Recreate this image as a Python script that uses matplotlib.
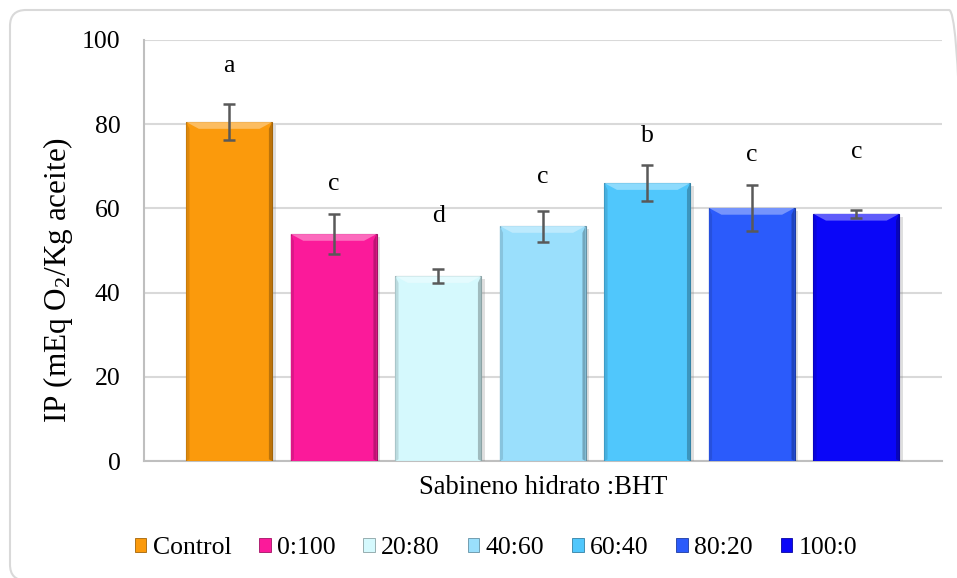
import matplotlib
matplotlib.use("Agg")
import matplotlib.pyplot as plt
import matplotlib.patheffects as pe
from matplotlib.patches import FancyBboxPatch, Patch, Polygon
from matplotlib.colors import to_rgb
import numpy as np

# Induction period by treatment
treatments = ["Control", "0:100", "20:80", "40:60", "60:40", "80:20", "100:0"]
ip_values = [80.5, 53.9, 43.9, 55.8, 66.0, 60.1, 58.7]
ip_errors = [4.3, 4.7, 1.6, 3.7, 4.2, 5.4, 1.0]
letters = ["a", "c", "d", "c", "b", "c", "c"]
letter_heights = [93.8, 65.8, 58.2, 67.4, 77.2, 72.6, 73.3]
colors = ["#FB9A0C", "#FB1A9A", "#D5F9FD", "#9ADFFC", "#50C7FC", "#2B5BFB", "#0A06F8"]
category = "Sabineno hidrato :BHT"
yticks = [0, 20, 40, 60, 80, 100]

plt.rcParams["font.family"] = ["Liberation Serif", "DejaVu Serif"]
plt.rcParams["mathtext.fontset"] = "custom"
plt.rcParams["mathtext.rm"] = "Liberation Serif"
plt.rcParams["mathtext.it"] = "Liberation Serif:italic"
plt.rcParams["mathtext.bf"] = "Liberation Serif:bold"
FS = 18.5

W, H = 957, 578
fig = plt.figure(figsize=(W / 100, H / 100), dpi=100)

# rounded chart-area frame (inches); right and bottom edges run off the canvas
frame = FancyBboxPatch((0.10, -0.025), 9.55, 5.705,
                       boxstyle="round,pad=0,rounding_size=0.16",
                       transform=fig.dpi_scale_trans, facecolor="none",
                       edgecolor="#d9d9d9", linewidth=1.5, zorder=0)
fig.patches.append(frame)

ax = fig.add_axes([144 / W, (H - 461) / H, 798 / W, 421 / H])
ax.set_facecolor("none")

x = np.arange(len(treatments))
bar_w = 0.82


def mix(c, other, t):
    c = np.array(to_rgb(c))
    o = np.array(to_rgb(other))
    return tuple(c * (1 - t) + o * t)


bars = ax.bar(x, ip_values, width=bar_w, color=colors, zorder=3,
              edgecolor=[mix(c, "black", 0.35) for c in colors], linewidth=0.8)
for b in bars:
    b.set_path_effects([pe.SimplePatchShadow(offset=(2.5, -2), alpha=0.25, shadow_rgbFace="gray"),
                        pe.Normal()])

# bevel highlights along the top and soft darkening on the sides
bev_h = 1.6
bev_d = 0.12
for xi, v, c in zip(x, ip_values, colors):
    x0, x1 = xi - bar_w / 2, xi + bar_w / 2
    top = Polygon([(x0, v), (x1, v), (x1 - bev_d, v - bev_h), (x0 + bev_d, v - bev_h)],
                  closed=True, facecolor=mix(c, "white", 0.35), edgecolor="none", zorder=4)
    ax.add_patch(top)
    right = Polygon([(x1, v), (x1, 0), (x1 - 0.03, 0.4), (x1 - 0.03, v - bev_h)],
                    closed=True, facecolor=mix(c, "black", 0.25), edgecolor="none", zorder=4)
    ax.add_patch(right)
    left = Polygon([(x0, v), (x0, 0), (x0 + 0.03, 0.4), (x0 + 0.03, v - bev_h)],
                   closed=True, facecolor=mix(c, "black", 0.12), edgecolor="none", zorder=4)
    ax.add_patch(left)

ax.errorbar(x, ip_values, yerr=ip_errors, fmt="none", ecolor="#595959",
            elinewidth=1.8, capsize=4.5, capthick=1.8, zorder=5)

for xi, h, t in zip(x, letter_heights, letters):
    ax.text(xi, h, t, ha="center", va="center", fontsize=FS, color="black", zorder=6)

ax.set_xlim(-0.815, 6.82)
ax.set_ylim(0, 100)
ax.set_yticks(yticks)
ax.set_yticklabels([str(t) for t in yticks], fontsize=FS)
ax.set_xticks([3])
ax.set_xticklabels([category], fontsize=19.2)
ax.tick_params(axis="y", length=0, pad=17)
ax.tick_params(axis="x", length=0, pad=10)
ax.yaxis.grid(True, color="#d9d9d9", linewidth=1.5, zorder=0)
ax.set_axisbelow(True)
for s in ["top", "right"]:
    ax.spines[s].set_visible(False)
for s in ["left", "bottom"]:
    ax.spines[s].set_color("#bfbfbf")
    ax.spines[s].set_linewidth(1.5)

ax.set_ylabel("IP (mEq O$_2$/Kg aceite)", fontsize=22.5)
ax.yaxis.set_label_coords((75 - 144) / 798, (461 - 280) / 421)

handles = [Patch(facecolor=c, edgecolor=mix(c, "black", 0.35), linewidth=0.6) for c in colors]
fig.legend(handles, treatments, loc="center", bbox_to_anchor=(496 / W, 1 - 548 / H),
           ncol=7, frameon=False, fontsize=FS, handlelength=0.45, handleheight=0.45,
           handletextpad=0.25, columnspacing=1.08, borderaxespad=0)

fig.savefig("out.png", dpi=100)
